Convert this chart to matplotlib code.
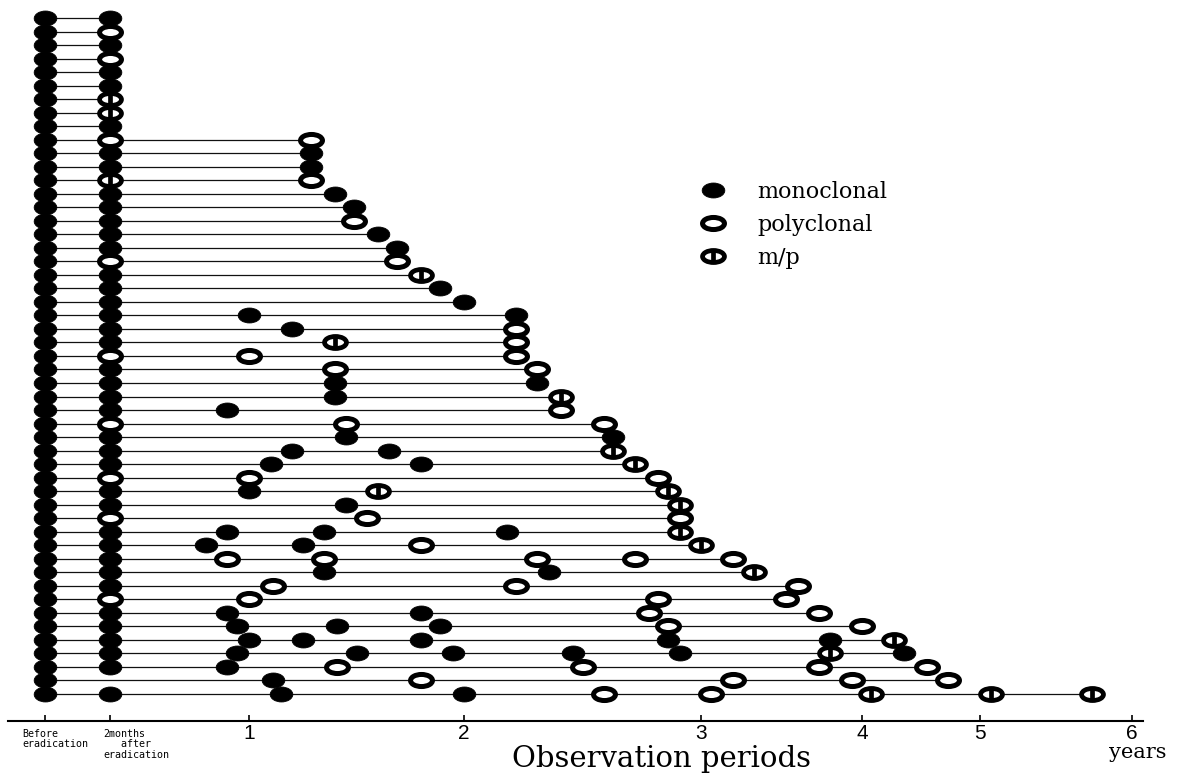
import matplotlib
matplotlib.use("Agg")
import matplotlib.pyplot as plt
import numpy as np
from matplotlib.lines import Line2D
from matplotlib.path import Path

# clone codes: m = monoclonal, p = polyclonal, x = m/p, "-" = not examined
BEFORE = "m" * 51
TWO_MONTHS = "mpmpmmxxmp" "mmxmmmmmpm" "mmmmmpmmmm" "pmmmpmmpmm" "mmmpmmmmm-m"

# follow-up examinations per patient (years after eradication)
FOLLOW_YEARS = [
    [], [], [], [], [], [], [], [], [],
    [1.29], [1.29], [1.29], [1.29],
    [1.40], [1.49], [1.49], [1.60], [1.69], [1.69], [1.80], [1.89], [2.0],
    [1.0, 2.22], [1.20, 2.22], [1.40, 2.22], [1.0, 2.22],
    [1.40, 2.31], [1.40, 2.31], [1.40, 2.41], [0.87, 2.41],
    [1.45, 2.59], [1.45, 2.63], [1.20, 1.65, 2.63], [1.10, 1.80, 2.72],
    [1.0, 2.82], [1.0, 1.60, 2.86], [1.45, 2.91], [1.55, 2.91],
    [0.87, 1.35, 2.18, 2.91],
    [0.74, 1.25, 1.80, 3.0],
    [0.87, 1.35, 2.31, 2.72, 3.20],
    [1.35, 2.36, 3.33],
    [1.11, 2.22, 3.60],
    [1.0, 2.82, 3.53],
    [0.87, 1.80, 2.78, 3.73],
    [0.93, 1.41, 1.89, 2.86, 4.0],
    [1.0, 1.25, 1.80, 2.86, 3.80, 4.27],
    [0.93, 1.50, 1.95, 2.46, 2.91, 3.80, 4.36],
    [0.87, 1.41, 2.50, 3.73, 4.55],
    [1.11, 1.80, 3.20, 3.94, 4.73],
    [1.15, 2.0, 2.59, 3.06, 4.08, 5.07, 5.74],
]
FOLLOW_CLONE = [
    "", "", "", "", "", "", "", "", "",
    "p", "m", "m", "p",
    "m", "m", "p", "m", "m", "p", "x", "m", "m",
    "mm", "mp", "xp", "pp",
    "pp", "mm", "mx", "mp",
    "pp", "mm", "mmx", "mmx",
    "pp", "mxx", "mx", "pp",
    "mmmx",
    "mmpx",
    "ppppp",
    "mmx",
    "ppp",
    "ppp",
    "mmpp",
    "mmmpp",
    "mmmmmx",
    "mmmmmxm",
    "mpppp",
    "mpppp",
    "mmppxxx",
]

# the printed axis is not linear: tick values and where they sit (px)
AXIS_VALUES = [-0.25, 0.0, 2 / 12, 1, 2, 3, 4, 5, 6, 6.5]
AXIS_PX = [-52.5, 45, 110, 249, 464, 701, 862, 980, 1132, 1208]
TICKS = [0.0, 2 / 12, 1, 2, 3, 4, 5, 6]
TICK_LABELS = ["", "", "1", "2", "3", "4", "5", "6"]


def forward(v):
    return np.interp(v, AXIS_VALUES, AXIS_PX)


def inverse(p):
    return np.interp(p, AXIS_PX, AXIS_VALUES)


def ellipse(ry):
    c = Path.unit_circle()
    return Path(c.vertices * [1.0, ry], c.codes)


MONO = ellipse(0.66)
POLY = ellipse(0.55)
MIXED = Path.make_compound_path(POLY, Path([[0, -0.55], [0, 0.55]], [Path.MOVETO, Path.LINETO]))

STYLES = {
    "m": dict(marker=MONO, ms=16.3, mfc="black", mec="black", mew=0.6),
    "p": dict(marker=POLY, ms=15.8, mfc="white", mec="black", mew=3.6),
    "x": dict(marker=MIXED, ms=15.8, mfc="white", mec="black", mew=3.4),
}

fig = plt.figure(figsize=(11.84, 7.74), dpi=100)
ax = fig.add_axes([8 / 1184, 53 / 774, 1135 / 1184, 721 / 774])
ax.set_xscale("function", functions=(forward, inverse))
ax.set_xlim(float(inverse(8)), float(inverse(1143)))
ax.set_ylim(52.0, -1.33)

points = {"m": ([], []), "p": ([], []), "x": ([], [])}
ends = []
for row in range(len(BEFORE)):
    obs = [(0.0, BEFORE[row])]
    if TWO_MONTHS[row] != "-":
        obs.append((2 / 12, TWO_MONTHS[row]))
    obs += list(zip(FOLLOW_YEARS[row], FOLLOW_CLONE[row]))
    for x, c in obs:
        points[c][0].append(x)
        points[c][1].append(row)
    ends.append(max(x for x, _ in obs))

rows = np.arange(len(BEFORE))
ax.hlines(rows, 0.0, ends, colors="#111111", lw=0.9, zorder=1)
for c, (xs, ys) in points.items():
    ax.plot(xs, ys, ls="none", zorder=3, **STYLES[c])

for side in ("top", "left", "right"):
    ax.spines[side].set_visible(False)
ax.spines["bottom"].set_linewidth(1.5)
ax.set_yticks([])
ax.set_xticks(TICKS)
ax.set_xticklabels(TICK_LABELS, family="Liberation Sans", fontsize=15)
ax.xaxis.set_minor_locator(matplotlib.ticker.NullLocator())
ax.tick_params(axis="x", direction="in", length=4.5, width=1.2, pad=2)

small = dict(family="DejaVu Sans Mono", fontsize=7.2, va="top", ha="left", linespacing=1.05)
fig.text(22 / 1184, 1 - 729 / 774, "Before\neradication", **small)
fig.text(103 / 1184, 1 - 729 / 774, "2months\n   after\neradication", **small)

fig.text(662 / 1184, 1 - 767 / 774, "Observation periods", family="DejaVu Serif",
         fontsize=21, ha="center", va="baseline")
fig.text(1138 / 1184, 1 - 758 / 774, "years", family="DejaVu Serif",
         fontsize=15, ha="center", va="baseline")

handles = [Line2D([], [], ls="none", **STYLES[c]) for c in "mpx"]
ax.legend(handles, ["monoclonal", "polyclonal", "m/p"], loc="upper left",
          bbox_to_anchor=(697 / 1184, 1 - 181 / 774), bbox_transform=fig.transFigure,
          frameon=False, borderpad=0, borderaxespad=0, handlelength=1.4,
          handletextpad=1.3, labelspacing=0.5,
          prop=dict(family="DejaVu Serif", size=16))

fig.savefig("out.png", dpi=100)
